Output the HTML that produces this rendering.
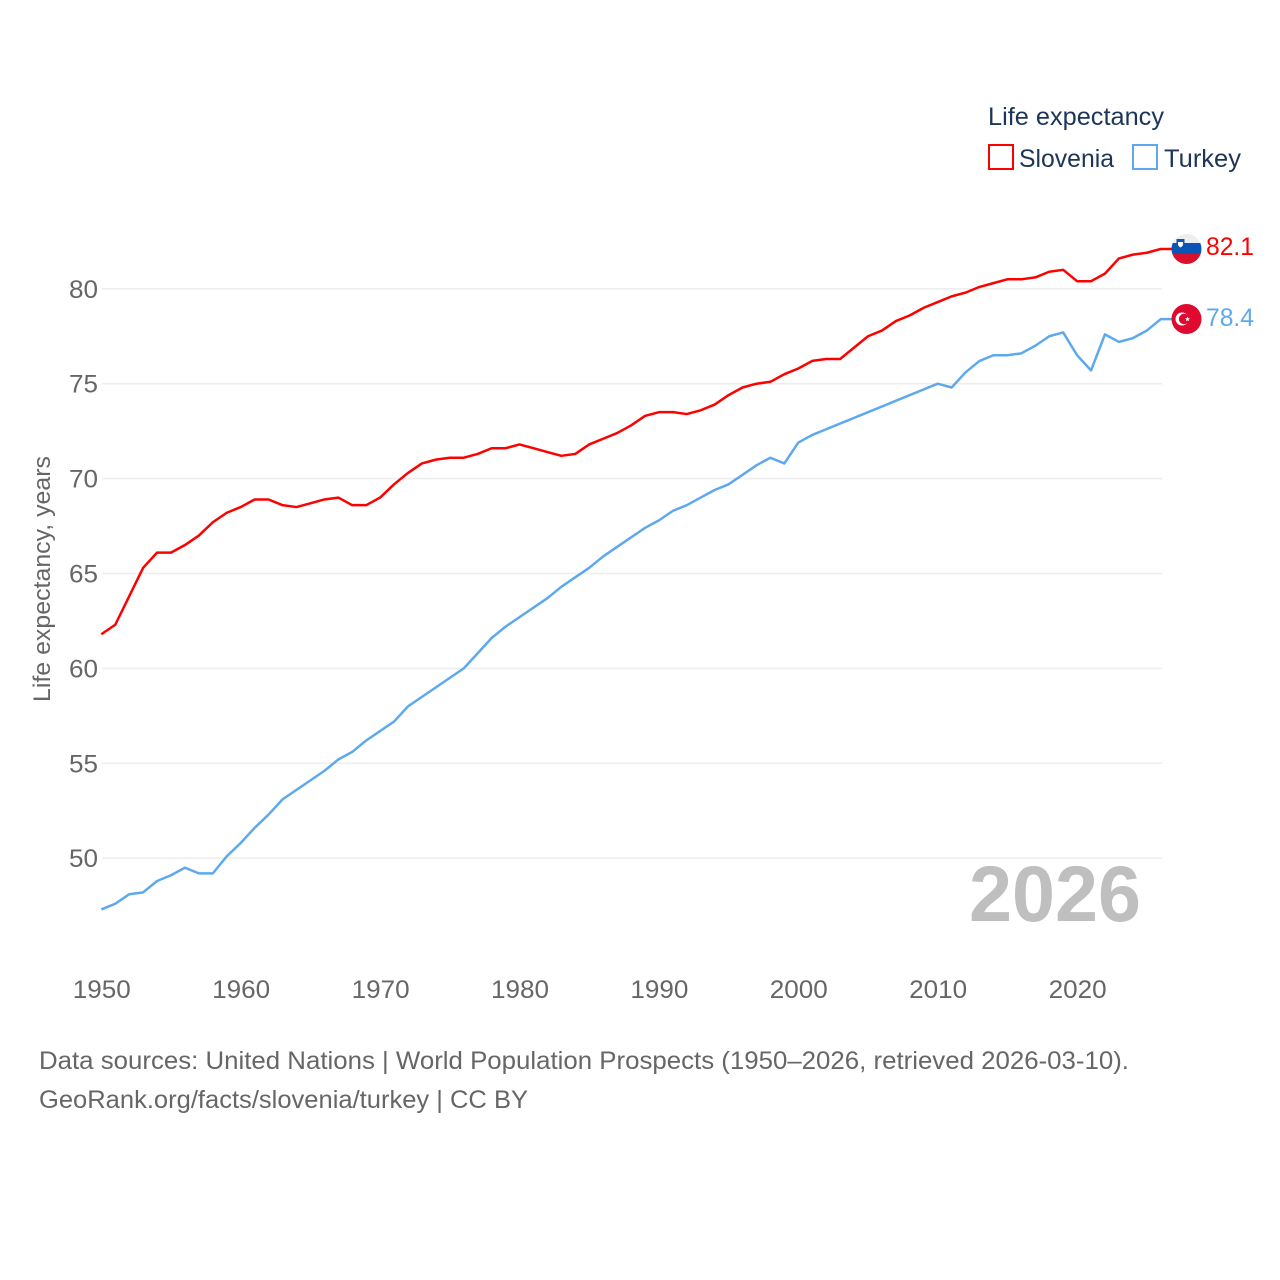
<!DOCTYPE html>
<html lang="en">
<head>
<meta charset="utf-8">
<title>Life expectancy: Slovenia vs Turkey</title>
<style>
html,body{margin:0;padding:0;background:#fff;width:1280px;height:1280px;overflow:hidden}
svg{display:block}
text{font-family:"Liberation Sans",sans-serif}
</style>
</head>
<body>
<svg id="chart" xmlns="http://www.w3.org/2000/svg" width="1280" height="1280" viewBox="0 0 1280 1280">
  <defs>
    <clipPath id="clip-si"><circle cx="1186.5" cy="249" r="15"/></clipPath>
    <clipPath id="clip-tr"><circle cx="1186.5" cy="319" r="15"/></clipPath>
  </defs>
  <rect x="0" y="0" width="1280" height="1280" fill="#fff"/>
  <g id="grid"></g>
  <g id="yticks"></g>
  <g id="xticks"></g>
  <text transform="translate(50,702) rotate(-90)" font-size="24.5" fill="#666" textLength="246" lengthAdjust="spacingAndGlyphs">Life expectancy, years</text>
  <text x="969" y="921" font-size="79" font-weight="700" fill="#bfbfbf" textLength="172" lengthAdjust="spacingAndGlyphs">2026</text>
  <g id="series"></g>

  <g clip-path="url(#clip-si)">
    <rect x="1170" y="232" width="34" height="12" fill="#eee"/>
    <rect x="1170" y="243" width="34" height="11" fill="#0a55b5"/>
    <rect x="1170" y="254" width="34" height="11" fill="#d9112f"/>
    <path d="M1176.500 239h8v6q-1 3-4 4q-3-1-4-4z" fill="#0a55b5"/>
    <path d="M1178 242h5v3q-1 2-2.500 2.500q-1.500-.5-2.500-2.500z" fill="#fff"/>
  </g>
  <g clip-path="url(#clip-tr)">
    <rect x="1170" y="303" width="34" height="32" fill="#e0092f"/>
    <circle cx="1182" cy="319" r="6.500" fill="#fff"/>
    <circle cx="1184" cy="319" r="5.200" fill="#e0092f"/>
    <polygon points="1187.500,316.500 1188.200,318.300 1190.100,318.300 1188.600,319.500 1189.200,321.300 1187.500,320.200 1185.800,321.300 1186.400,319.500 1184.900,318.300 1186.800,318.300" fill="#fff"/>
  </g>
  <text id="label-si" x="1206" y="255" font-size="25" fill="#ff0000" textLength="48" lengthAdjust="spacingAndGlyphs"></text>
  <text id="label-tr" x="1206" y="326" font-size="25" fill="#5ea9ee" textLength="48" lengthAdjust="spacingAndGlyphs"></text>

  <g>
    <text x="988" y="125" font-size="25" fill="#1d3557" textLength="176" lengthAdjust="spacingAndGlyphs">Life expectancy</text>
    <g>
      <rect x="989" y="145" width="24" height="24" fill="#fff" stroke="#ff0000" stroke-width="2"/>
      <text x="1019" y="167" font-size="25" fill="#1d3557" textLength="95" lengthAdjust="spacingAndGlyphs">Slovenia</text>
    </g>
    <g>
      <rect x="1133" y="145" width="24" height="24" fill="#fff" stroke="#5ea9ee" stroke-width="2"/>
      <text x="1164" y="167" font-size="25" fill="#1d3557" textLength="77" lengthAdjust="spacingAndGlyphs">Turkey</text>
    </g>
  </g>

  <text x="39" y="1069" font-size="25" fill="#666" textLength="1090" lengthAdjust="spacingAndGlyphs">Data sources: United Nations | World Population Prospects (1950–2026, retrieved 2026-03-10).</text>
  <text x="39" y="1108" font-size="25" fill="#666" textLength="489" lengthAdjust="spacingAndGlyphs">GeoRank.org/facts/slovenia/turkey | CC BY</text>
</svg>
<script>
const startYear = 1950;
const slovenia = [61.8,62.3,63.8,65.3,66.1,66.1,66.5,67.0,67.7,68.2,68.5,68.9,68.9,68.6,68.5,68.7,68.9,69.0,68.6,68.6,69.0,69.7,70.3,70.8,71.0,71.1,71.1,71.3,71.6,71.6,71.8,71.6,71.4,71.2,71.3,71.8,72.1,72.4,72.8,73.3,73.5,73.5,73.4,73.6,73.9,74.4,74.8,75.0,75.1,75.5,75.8,76.2,76.3,76.3,76.9,77.5,77.8,78.3,78.6,79.0,79.3,79.6,79.8,80.1,80.3,80.5,80.5,80.6,80.9,81.0,80.4,80.4,80.8,81.6,81.8,81.9,82.1];
const turkey = [47.3,47.6,48.1,48.2,48.8,49.1,49.5,49.2,49.2,50.1,50.8,51.6,52.3,53.1,53.6,54.1,54.6,55.2,55.6,56.2,56.7,57.2,58.0,58.5,59.0,59.5,60.0,60.8,61.6,62.2,62.7,63.2,63.7,64.3,64.8,65.3,65.9,66.4,66.9,67.4,67.8,68.3,68.6,69.0,69.4,69.7,70.2,70.7,71.1,70.8,71.9,72.3,72.6,72.9,73.2,73.5,73.8,74.1,74.4,74.7,75.0,74.8,75.6,76.2,76.5,76.5,76.6,77.0,77.5,77.7,76.5,75.7,77.6,77.2,77.4,77.8,78.4];
const yTickValues = [50,55,60,65,70,75,80];
const xTickValues = [1950,1960,1970,1980,1990,2000,2010,2020];

const NS = 'http://www.w3.org/2000/svg';
function xScale(year){ return 101.3 + (year - 1950) * 13.94; }
function yScale(v){ return 288.8 + (80 - v) * 18.98; }
function make(tag, attrs, parent){
  const el = document.createElementNS(NS, tag);
  for (const k in attrs) el.setAttribute(k, attrs[k]);
  parent.appendChild(el);
  return el;
}
const grid = document.getElementById('grid');
const yticks = document.getElementById('yticks');
const xticks = document.getElementById('xticks');
const seriesGroup = document.getElementById('series');

yTickValues.forEach(function(v){
  const line = make('line', {x1:102, x2:1162, y1:yScale(v), y2:yScale(v), stroke:'#eeeeee', 'stroke-width':1.6}, grid);
  
  
  const t = make('text', {x:98, y:yScale(v)+9, 'font-size':25, fill:'#666', 'text-anchor':'end', textLength:29, lengthAdjust:'spacingAndGlyphs'}, yticks);
  
  
  t.textContent = v;
});
xTickValues.forEach(function(y){
  const t = make('text', {x:xScale(y)-28.5, y:998, 'font-size':25, fill:'#666', textLength:58, lengthAdjust:'spacingAndGlyphs'}, xticks);
  
  
  t.textContent = y;
});
function drawSeries(values, color, name){
  const pts = values.map(function(v, i){ return xScale(startYear + i).toFixed(2) + ',' + yScale(v).toFixed(2); });
  const last = values[values.length - 1];
  pts.push('1172,' + yScale(last).toFixed(2));
  const line = make('polyline', {points:pts.join(' '), fill:'none', stroke:color, 'stroke-width':2.5, 'stroke-linejoin':'round'}, seriesGroup);
  
  
}
drawSeries(turkey, '#5ea9ee', 'turkey-line');
drawSeries(slovenia, '#ff0000', 'slovenia-line');
document.getElementById('label-si').textContent = slovenia[slovenia.length - 1].toFixed(1);
document.getElementById('label-tr').textContent = turkey[turkey.length - 1].toFixed(1);
</script>
</body>
</html>
